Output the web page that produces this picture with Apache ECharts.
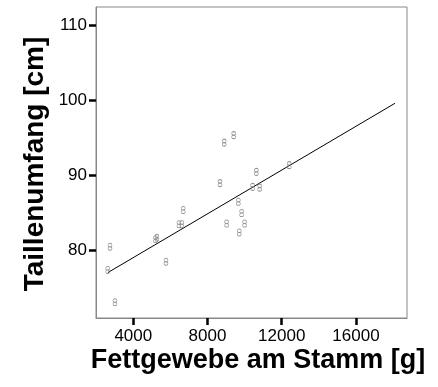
<!DOCTYPE html>
<html>
<head>
<meta charset="utf-8">
<script src="https://cdn.jsdelivr.net/npm/echarts@6/dist/echarts.min.js"></script>
<style>
  html, body { margin: 0; padding: 0; background: #fff; }
  #chart { width: 438px; height: 387px; }
</style>
</head>
<body>
<div id="chart"></div>
<script>
// Trunk fat mass (g) against waist circumference (cm), one entry per subject
const fatTrunk = [8900, 9410, 10630, 8670, 10430, 10810, 9660, 6690, 9840, 6460,
                  6620, 9030, 10000, 9710, 5200, 5270, 12400, 2745, 2620, 5760, 3010];
const waist    = [94.4, 95.4, 90.5, 89.0, 88.5, 88.4, 86.5, 85.4, 85.0, 83.5,
                  83.5, 83.6, 83.6, 82.4, 81.5, 81.7, 91.4, 80.5, 77.4, 78.5, 73.1];

// Fitted regression line, end points
const fitX = [2630, 18100];
const fitY = [77.06, 99.65];

// Tick positions
const xTicks = [4000, 8000, 12000, 16000];
const yTicks = [80, 90, 100, 110];

const points = fatTrunk.map((x, i) => [x, waist[i]]);
const fitLine = fitX.map((x, i) => [x, fitY[i]]);

const FONT = 'Liberation Sans, Arial, sans-serif';
const marker = 'path://M2,0 C3.2,0 4,0.9 4,1.9 C4,2.9 3.1,3.5 2,3.5 C0.9,3.5 0,4.3 0,5.3 C0,6.4 0.9,7 2,7 C3.1,7 4,6.4 4,5.3 C4,4.3 3.1,3.5 2,3.5 C0.9,3.5 0,2.9 0,1.9 C0,0.9 0.8,0 2,0 Z';

const chart = echarts.init(document.getElementById('chart'), null, { renderer: 'canvas' });

const axisCommon = {
  type: 'value',
  splitLine: { show: false },
  axisLine: { show: true, lineStyle: { color: '#888', width: 1 } },
  axisTick: { show: true, inside: false, length: 7, lineStyle: { color: '#000', width: 2.5 } },
  axisLabel: { color: '#000', fontFamily: FONT, fontSize: 17, formatter: v => String(v) }
};

chart.setOption({
  animation: false,
  backgroundColor: '#fff',
  grid: { left: 96, top: 7, width: 311, height: 311, show: true, borderColor: '#888', borderWidth: 1 },
  xAxis: Object.assign({}, axisCommon, {
    min: 1990, max: 18750,
    axisTick: Object.assign({}, axisCommon.axisTick, { customValues: xTicks }),
    axisLabel: Object.assign({}, axisCommon.axisLabel, { customValues: xTicks, margin: 10 })
  }),
  yAxis: Object.assign({}, axisCommon, {
    min: 71, max: 112.5,
    axisTick: Object.assign({}, axisCommon.axisTick, { customValues: yTicks }),
    axisLabel: Object.assign({}, axisCommon.axisLabel, { customValues: yTicks, margin: 9 })
  }),
  graphic: [
    {
      type: 'text', x: 258, y: 361,
      style: { text: 'Fettgewebe am Stamm [g]', font: 'bold 27px ' + FONT, fill: '#000',
               align: 'center', verticalAlign: 'middle' }
    },
    {
      type: 'text', x: 35, y: 164, rotation: Math.PI / 2,
      style: { text: 'Taillenumfang [cm]', font: 'bold 28px ' + FONT, fill: '#000',
               align: 'center', verticalAlign: 'middle' }
    }
  ],
  series: [
    {
      type: 'line',
      data: fitLine,
      showSymbol: false,
      symbol: 'none',
      lineStyle: { color: '#000', width: 1 },
      z: 2
    },
    {
      type: 'scatter',
      data: points,
      symbol: marker,
      symbolSize: [4, 7],
      symbolKeepAspect: false,
      itemStyle: { color: 'none', borderColor: '#777', borderWidth: 0.8 },
      z: 3
    }
  ]
});
</script>
</body>
</html>
